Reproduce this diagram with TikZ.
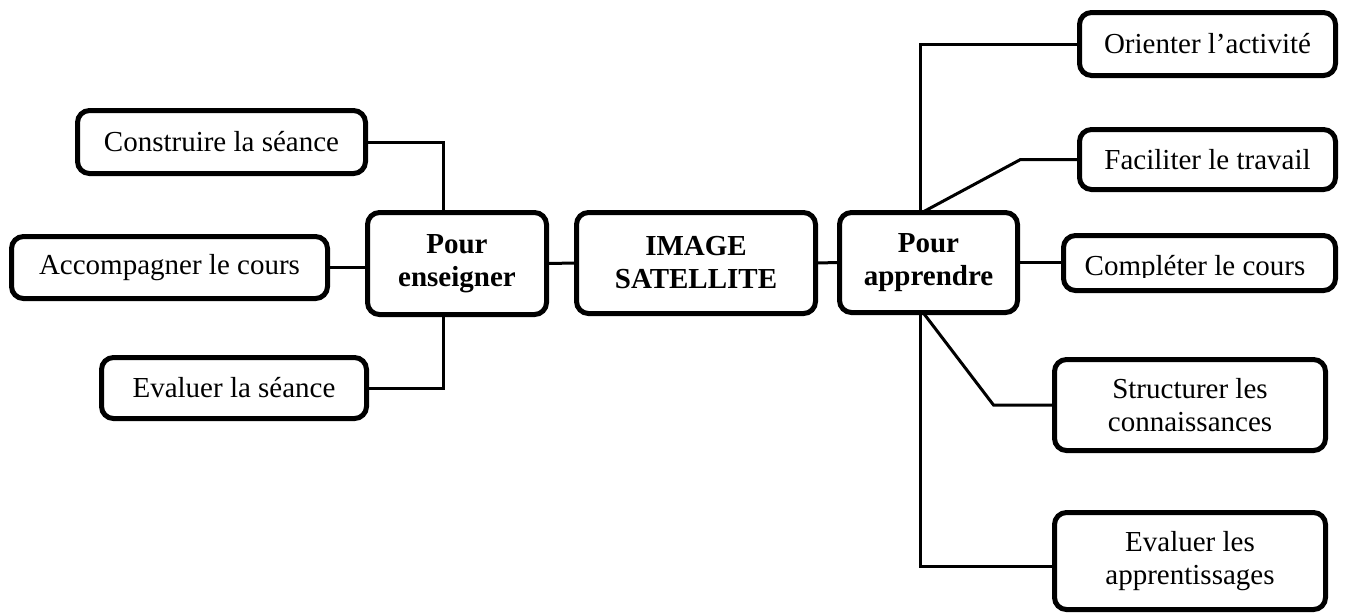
\documentclass[tikz,border=0pt]{standalone}
\usepackage{fontspec}
\setmainfont{Liberation Serif}
\usetikzlibrary{calc}
\begin{document}
\begin{tikzpicture}[x=1pt,y=-1pt,
  box/.style={draw=black, line width=5pt, rounded corners=12pt, fill=white,
    inner sep=0pt, outer sep=0pt, align=center,
    font=\fontsize{29}{33}\selectfont},
  hub/.style={box, font=\fontsize{29}{33}\selectfont\bfseries},
  link/.style={draw=black, line width=3pt}]
\useasboundingbox (0,0) rectangle (1357,614);

% central node and the two hubs
\node[hub, minimum width=239pt, minimum height=101pt] (img) at (696,263) {IMAGE\\SATELLITE};
\node[hub, minimum width=179pt, minimum height=102pt] (ens) at (457,263.5) {Pour\\enseigner};
\node[hub, minimum width=178pt, minimum height=100pt] (app) at (928.5,262.5) {Pour\\apprendre};

% teaching side
\node[box, minimum width=288pt, minimum height=63pt] (constr) at (221.5,142) {Construire la séance};
\node[box, minimum width=316pt, minimum height=62pt] (accomp) at (169.5,267.5) {Accompagner le cours};
\node[box, minimum width=265pt, minimum height=61pt] (evals) at (234,388) {Evaluer la séance};

% learning side
\node[box, minimum width=256pt, minimum height=63pt] (orient) at (1207.5,44) {Orienter l’activité};
\node[box, minimum width=256pt, minimum height=60pt] (facil) at (1207.5,159.5) {Faciliter le travail};
\node[box, minimum width=272pt, minimum height=55pt] (compl) at (1199.5,263) {};
\begin{scope}
  \clip (1063,235) rectangle (1336,277);
  \node[anchor=base, inner sep=0pt, font=\fontsize{29}{33}\selectfont] (compltext) at (1195,275) {Compléter le cours};
\end{scope}
\node[box, minimum width=271pt, minimum height=91pt] (struct) at (1190,405) {Structurer les\\connaissances};
\node[box, minimum width=271pt, minimum height=97pt] (evala) at (1190,561) {Evaluer les\\apprentissages};

% bend points of the slanted links
\coordinate (fk) at ([xshift=-59pt]facil.west);
\coordinate (sk) at ([xshift=-61pt]struct.west);

% connectors
\draw[link] (ens.east) -- (img.west);
\draw[link] (img.east) -- (app.west);
\draw[link] (constr.east) -| ([xshift=-14pt]ens.north);
\draw[link] (accomp.east) -- (accomp.east -| ens.west);
\draw[link] (evals.east) -| ([xshift=-14pt]ens.south);
\draw[link] ([xshift=-8.5pt]app.north) |- (orient.west);
\draw[link] ([xshift=-6.5pt]app.north) -- (fk) -- (facil.west);
\draw[link] (app.east) -- (app.east -| compl.west);
\draw[link] ([xshift=-5.5pt]app.south) -- (sk) -- (struct.west);
\draw[link] ([xshift=-8.5pt]app.south) |- ([yshift=-5pt]evala.west);
\end{tikzpicture}
\end{document}
